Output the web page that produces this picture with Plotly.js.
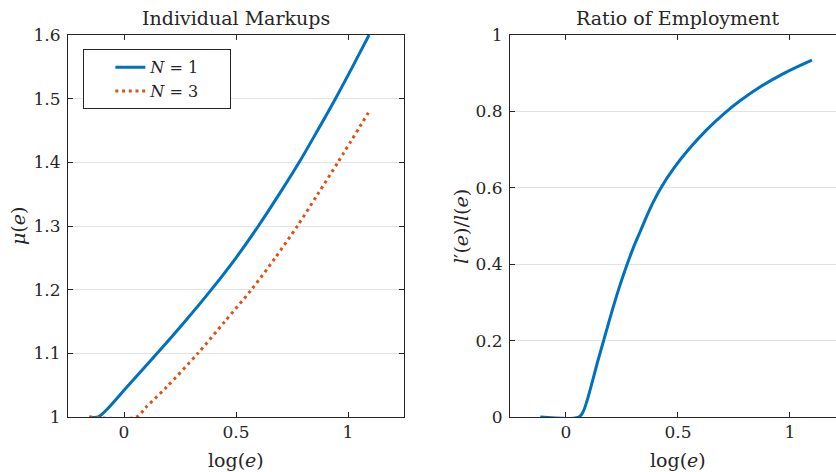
<!DOCTYPE html>
<html>
<head>
<meta charset="utf-8">
<script src="https://cdn.plot.ly/plotly-3.0.1.min.js"></script>
<style>html,body{margin:0;padding:0;background:#fff;}</style>
</head>
<body>
<div id="chart" style="width:836px;height:472px;"></div>
<script>
// Left panel: Individual Markups
const markupX_N1 = [-0.155, -0.115, 0.02, 0.148, 0.272, 0.39, 0.5, 0.6, 0.693, 0.782, 0.864, 0.944, 1.02, 1.094];
const markupY_N1 = [1.0, 1.0, 1.05, 1.1, 1.15, 1.2, 1.25, 1.3, 1.35, 1.4, 1.45, 1.5, 1.55, 1.6];
const markupX_N3 = [-0.155, 0.055, 0.1, 0.19, 0.33, 0.45, 0.569, 0.675, 0.774, 0.865, 0.955, 1.091];
const markupY_N3 = [1.0, 1.0, 1.016, 1.047, 1.1, 1.15, 1.2, 1.25, 1.3, 1.35, 1.4, 1.478];
// Right panel: Ratio of Employment
const ratioX = [-0.115, 0.057, 0.075, 0.09, 0.105, 0.12, 0.14, 0.168, 0.2, 0.235, 0.269, 0.3, 0.331, 0.375, 0.421, 0.48, 0.55, 0.63, 0.711, 0.78, 0.856, 0.975, 1.098];
const ratioY = [0, 0, 0.012, 0.035, 0.065, 0.098, 0.142, 0.2, 0.266, 0.334, 0.393, 0.442, 0.485, 0.545, 0.597, 0.65, 0.702, 0.753, 0.797, 0.829, 0.86, 0.9, 0.934];

const seriesNames = ['<i>N</i> = 1\u00a0\u00a0\u00a0\u00a0\u00a0', '<i>N</i> = 3\u00a0\u00a0\u00a0\u00a0\u00a0'];
const panelTitles = ['Individual Markups', 'Ratio of Employment'];
const xTickVals = [0, 0.5, 1];
const xTickText = ['0', '0.5', '1'];

const BLUE = '#0072BD', ORANGE = '#D95319', INK = '#262626', GRID = '#e3e3e3';
const FONT = 'DejaVu Serif';

const traces = [
  {x: markupX_N1, y: markupY_N1, xaxis: 'x', yaxis: 'y', type: 'scatter', mode: 'lines',
   name: seriesNames[0], line: {color: BLUE, width: 3, shape: 'spline', smoothing: 0.8}},
  {x: markupX_N3, y: markupY_N3, xaxis: 'x', yaxis: 'y', type: 'scatter', mode: 'lines',
   name: seriesNames[1], line: {color: ORANGE, width: 3, dash: '3px,3.7px', shape: 'spline', smoothing: 0.8}},
  {x: ratioX, y: ratioY, xaxis: 'x2', yaxis: 'y2', type: 'scatter', mode: 'lines',
   showlegend: false, line: {color: BLUE, width: 3, shape: 'spline', smoothing: 1}}
];

const axisCommon = {
  showline: true, linecolor: INK, linewidth: 1,
  ticks: 'inside', ticklen: 5, tickcolor: INK, tickwidth: 1,
  tickfont: {family: FONT, size: 17, color: INK},
  zeroline: false, fixedrange: true
};

const layout = {
  width: 836, height: 472,
  margin: {l: 68, r: 0, t: 35, b: 55},
  paper_bgcolor: '#fff', plot_bgcolor: '#fff',
  font: {family: FONT, color: INK, size: 17},
  showlegend: true,
  legend: {x: 0.02, xanchor: 'left', y: 0.9625, yanchor: 'top',
           bgcolor: '#fff', bordercolor: INK, borderwidth: 1,
           indentation: 26, font: {family: FONT, size: 16, color: INK}},
  xaxis: Object.assign({}, axisCommon, {domain: [0, 0.4375], range: [-0.25, 1.25],
    tickvals: xTickVals, ticktext: xTickText, mirror: 'ticks', showgrid: false, anchor: 'y'}),
  yaxis: Object.assign({}, axisCommon, {domain: [0, 1], range: [1, 1.6], dtick: 0.1, tick0: 1,
    mirror: 'ticks', showgrid: true, gridcolor: GRID, gridwidth: 1, anchor: 'x', ticklabelstandoff: 3}),
  xaxis2: Object.assign({}, axisCommon, {domain: [0.5755, 1], range: [-0.25, 1.2054],
    tickvals: xTickVals, ticktext: xTickText, mirror: 'ticks', showgrid: false, anchor: 'y2'}),
  yaxis2: Object.assign({}, axisCommon, {domain: [0, 1], range: [0, 1], dtick: 0.2, tick0: 0,
    mirror: false, showgrid: true, gridcolor: GRID, gridwidth: 1, anchor: 'x2', ticklabelstandoff: 3}),
  annotations: [
    {text: panelTitles[0], xref: 'x', yref: 'paper', x: 0.5, y: 1.0445, showarrow: false,
     xanchor: 'center', yanchor: 'middle', font: {family: FONT, size: 19, color: INK}},
    {text: panelTitles[1], xref: 'x2', yref: 'paper', x: 0.5, y: 1.0445, showarrow: false,
     xanchor: 'center', yanchor: 'middle', font: {family: FONT, size: 19, color: INK}},
    {text: 'log(<i>e</i>)', xref: 'x', yref: 'paper', x: 0.5, y: -0.113, showarrow: false,
     xanchor: 'center', yanchor: 'middle', font: {family: FONT, size: 19, color: INK}},
    {text: 'log(<i>e</i>)', xref: 'x2', yref: 'paper', x: 0.5, y: -0.113, showarrow: false,
     xanchor: 'center', yanchor: 'middle', font: {family: FONT, size: 19, color: INK}},
    {text: '<i>μ</i>(<i>e</i>)', xref: 'paper', yref: 'paper', x: -0.0651, y: 0.5, showarrow: false,
     textangle: -90, xanchor: 'center', yanchor: 'middle', font: {family: FONT, size: 19, color: INK}},
    {text: '<i>l</i>\u2032(<i>e</i>)/<i>l</i>(<i>e</i>)', xref: 'paper', yref: 'paper', x: 0.5117, y: 0.5, showarrow: false,
     textangle: -90, xanchor: 'center', yanchor: 'middle', font: {family: FONT, size: 19, color: INK}}
  ]
};

Plotly.newPlot('chart', traces, layout, {displayModeBar: false, staticPlot: true});
</script>
</body>
</html>
